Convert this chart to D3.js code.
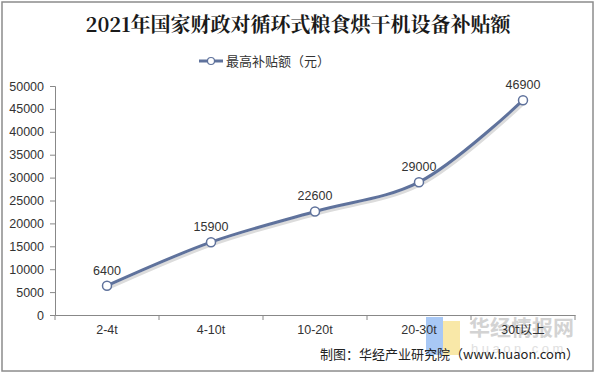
<!DOCTYPE html>
<html>
<head>
<meta charset="utf-8">
<script src="https://cdn.jsdelivr.net/npm/d3@7"></script>
<style>
  body { margin: 0; background: #fff; }
  svg text { font-family: "Liberation Sans", Arial, sans-serif; }
</style>
</head>
<body>
<svg id="chart" width="595" height="375"></svg>
<script>
// data
var categories = ["2-4t", "4-10t", "10-20t", "20-30t", "30t以上"];
var values = [6400, 15900, 22600, 29000, 46900];
var yTicks = [0, 5000, 10000, 15000, 20000, 25000, 30000, 35000, 40000, 45000, 50000];
var title = "2021年国家财政对循环式粮食烘干机设备补贴额";
var seriesName = "最高补贴额（元）";
var source = "制图：华经产业研究院（www.huaon.com）";

var svg = d3.select("#chart"),
	lineColor = "#5f729c",
	cjk = "'Noto Sans CJK SC', sans-serif";

var x = d3.scaleBand().domain(categories).range([55, 575]);
var y = d3.scaleLinear().domain([0, 50000]).range([315, 86]);

// outer frame
svg.append("rect")
	.attr("x", 2).attr("y", 2)
	.attr("width", 591).attr("height", 369)
	.attr("fill", "#fff")
	.attr("stroke", "#8c8c8c")
	.attr("stroke-width", 1.5);

// title
svg.append("text")
	.attr("x", 298).attr("y", 32)
	.attr("text-anchor", "middle")
	.style("font-family", "'Noto Serif CJK SC', 'Noto Sans CJK SC', serif")
	.style("font-size", "20px")
	.style("font-weight", "bold")
	.attr("fill", "#1a1a1a")
	.text(title);

// legend
var legend = svg.append("g").attr("transform", "translate(199,61)");
legend.append("line")
	.attr("x1", 0).attr("x2", 24)
	.attr("stroke", lineColor).attr("stroke-width", 3);
legend.append("circle")
	.attr("cx", 12).attr("r", 3.5)
	.attr("fill", "#fff").attr("stroke", lineColor).attr("stroke-width", 1.2);
legend.append("text")
	.attr("x", 27).attr("y", 5)
	.style("font-family", cjk)
	.style("font-size", "13px")
	.attr("fill", "#333")
	.text(seriesName);

// watermark (behind the chart)
var wm = svg.append("g");
wm.append("rect").attr("x", 426).attr("y", 317).attr("width", 17).attr("height", 38).attr("fill", "#a8c8f5");
wm.append("rect").attr("x", 443).attr("y", 321).attr("width", 17).attr("height", 34).attr("fill", "#f9e8a8");
wm.append("text")
	.attr("x", 469).attr("y", 335)
	.style("font-family", cjk)
	.style("font-size", "21px")
	.style("font-weight", "bold")
	.attr("fill", "#d3d3d3")
	.text("华经情报网");
wm.append("text")
	.attr("x", 471).attr("y", 353)
	.style("font-size", "13px")
	.style("letter-spacing", "3.5px")
	.attr("fill", "#e0e0e0")
	.text("huaon.com");

// y axis
var yAxis = svg.append("g")
	.attr("transform", "translate(55,0)")
	.call(d3.axisLeft(y).tickValues(yTicks).tickFormat(d3.format("d")).tickSize(5).tickPadding(6));
yAxis.select(".domain").attr("stroke", "#888");
yAxis.selectAll(".tick line").attr("stroke", "#888");
yAxis.selectAll("text")
	.style("font-size", "12.5px")
	.attr("fill", "#333");

// x axis
var xAxis = svg.append("g")
	.attr("transform", "translate(0,315)")
	.call(d3.axisBottom(x).tickSize(0).tickPadding(10));
xAxis.select(".domain").attr("stroke", "#888");
xAxis.selectAll("text")
	.style("font-size", "12.5px")
	.style("font-family", function (d) { return /[^\x00-\x7f]/.test(d) ? cjk : null; })
	.attr("fill", "#333");
xAxis.selectAll(".sep")
	.data(x.domain().map(function (d) { return x(d); }).concat([x.range()[1]]))
	.enter().append("line")
	.attr("class", "sep")
	.attr("x1", function (d) { return d; }).attr("x2", function (d) { return d; })
	.attr("y1", 0).attr("y2", 5)
	.attr("stroke", "#888");

var pts = categories.map(function (c, i) {
	return { x: x(c) + x.bandwidth() / 2, y: y(values[i]), v: values[i] };
});

var line = d3.line()
	.x(function (d) { return d.x; })
	.y(function (d) { return d.y; })
	.curve(d3.curveCatmullRom.alpha(0.5));

// soft shadow under the line
svg.append("path")
	.datum(pts)
	.attr("d", line)
	.attr("transform", "translate(1.5,2.5)")
	.attr("fill", "none")
	.attr("stroke", "#dcdcdc")
	.attr("stroke-width", 3);

svg.append("path")
	.datum(pts)
	.attr("d", line)
	.attr("fill", "none")
	.attr("stroke", lineColor)
	.attr("stroke-width", 3);

svg.append("g").selectAll("circle")
	.data(pts)
	.enter().append("circle")
	.attr("cx", function (d) { return d.x; })
	.attr("cy", function (d) { return d.y; })
	.attr("r", 4.5)
	.attr("fill", "#fff")
	.attr("stroke", lineColor)
	.attr("stroke-width", 1.5);

svg.append("g").selectAll("text")
	.data(pts)
	.enter().append("text")
	.attr("x", function (d) { return d.x; })
	.attr("y", function (d) { return d.y - 11; })
	.attr("text-anchor", "middle")
	.style("font-size", "12.5px")
	.attr("fill", "#333")
	.text(function (d) { return d.v; });

// source note
svg.append("text")
	.attr("x", 579).attr("y", 359)
	.attr("text-anchor", "end")
	.style("font-family", cjk)
	.style("font-size", "13px")
	.attr("fill", "#222")
	.text(source);
</script>
</body>
</html>
